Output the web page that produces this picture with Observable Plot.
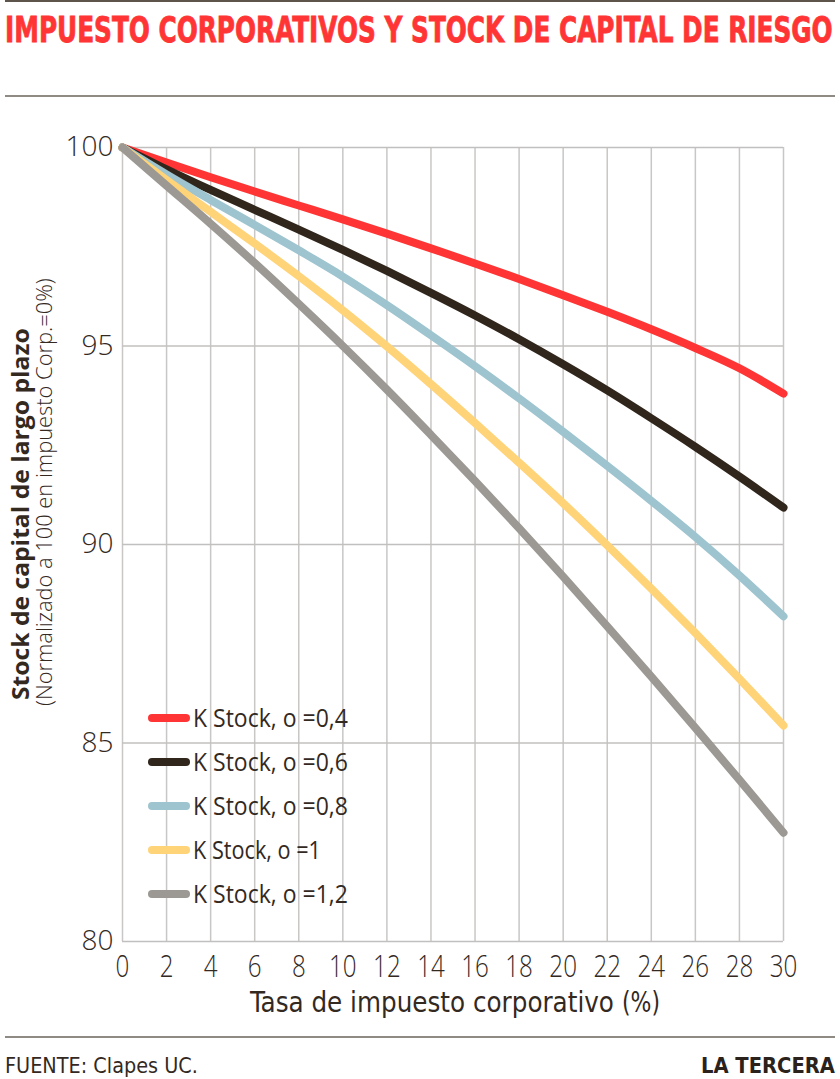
<!DOCTYPE html>
<html>
<head>
<meta charset="utf-8">
<script src="https://cdn.jsdelivr.net/npm/d3@7"></script>
<script src="https://cdn.jsdelivr.net/npm/@observablehq/plot@0.6"></script>
<style>
  body { margin: 0; background: #fff; }
  #wrap { position: relative; width: 840px; height: 1079px; overflow: hidden; font-family: "Open Sans", sans-serif; }
  #chart { position: absolute; left: 0; top: 100px; }
  #overlay { position: absolute; left: 0; top: 0; pointer-events: none; }
</style>
</head>
<body>
<div id="wrap">
  <div id="chart"></div>
  <svg id="overlay" width="840" height="1079"></svg>
</div>
<script>
// ---- data ----
const taxRates = [0, 2, 4, 6, 8, 10, 12, 14, 16, 18, 20, 22, 24, 26, 28, 30];
const seriesNames = ["K Stock, o =0,4", "K Stock, o =0,6", "K Stock, o =0,8", "K Stock, o =1", "K Stock, o =1,2"];
const seriesColors = ["#ff3535", "#30261c", "#9dc4cf", "#ffd378", "#9c9893"];
const stockSigma04 = [100, 99.62, 99.25, 98.89, 98.54, 98.19, 97.83, 97.46, 97.08, 96.69, 96.28, 95.86, 95.42, 94.95, 94.44, 93.80];
const stockSigma06 = [100, 99.45, 98.93, 98.43, 97.93, 97.42, 96.89, 96.34, 95.77, 95.17, 94.54, 93.88, 93.18, 92.46, 91.71, 90.93];
const stockSigma08 = [100, 99.32, 98.68, 98.05, 97.41, 96.75, 96.03, 95.27, 94.49, 93.68, 92.84, 91.98, 91.10, 90.19, 89.22, 88.19];
const stockSigma10 = [100, 99.18, 98.38, 97.58, 96.76, 95.90, 94.99, 94.04, 93.06, 92.06, 91.04, 89.98, 88.89, 87.77, 86.62, 85.44];
const stockSigma12 = [100, 99.04, 98.08, 97.09, 96.06, 95.00, 93.90, 92.76, 91.60, 90.41, 89.19, 87.94, 86.67, 85.38, 84.07, 82.74];
const xTicks = [0, 2, 4, 6, 8, 10, 12, 14, 16, 18, 20, 22, 24, 26, 28, 30];
const yTicks = [80, 85, 90, 95, 100];
const titleText = "IMPUESTO CORPORATIVOS Y STOCK DE CAPITAL DE RIESGO";
const yLabelMain = "Stock de capital de largo plazo";
const yLabelSub = "(Normalizado a 100 en impuesto Corp.=0%)";
const xLabelMain = "Tasa de impuesto corporativo";
const xLabelUnit = "(%)";
const sourceText = "FUENTE: Clapes UC.";
const brandText = "LA TERCERA";

const seriesValues = [stockSigma04, stockSigma06, stockSigma08, stockSigma10, stockSigma12];
const rows = seriesNames.flatMap((name, i) =>
  taxRates.map((t, j) => ({ series: name, tax: t, stock: seriesValues[i][j] }))
);

const textColor = "#33291f";
const condensed = "'Liberation Sans Narrow', 'DejaVu Sans Condensed', 'Open Sans', sans-serif";

const chart = Plot.plot({
  width: 840,
  height: 930,
  marginTop: 47,
  marginBottom: 89,
  marginLeft: 122,
  marginRight: 57,
  x: { domain: [0, 30] },
  y: { domain: [80, 100] },
  color: { domain: seriesNames, range: seriesColors },
  style: { fontFamily: "'Open Sans', sans-serif", color: textColor, background: "transparent" },
  marks: [
    Plot.ruleX(xTicks, { stroke: "#c9c7c5", strokeWidth: 1.5 }),
    Plot.ruleY(yTicks, { stroke: "#c2c0be", strokeWidth: 1.5 }),
    Plot.axisY(yTicks, { tickSize: 0, tickPadding: 9, fontSize: 28, fontWeight: 300, label: null, fill: textColor }),
    Plot.axisX(xTicks, { tickSize: 0, tickPadding: 13, fontSize: 31, fontWeight: 300, fontFamily: "'Open Sans', sans-serif", label: null, fill: textColor }),
    Plot.line(rows, { x: "tax", y: "stock", stroke: "series", strokeWidth: 8, curve: "monotone-x", strokeLinecap: "round", strokeLinejoin: "round" })
  ]
});
document.getElementById("chart").appendChild(chart);
// narrow the x tick labels (condensed look of the reference)
chart.querySelectorAll('g[aria-label="x-axis tick label"] text').forEach(t => {
  const tr = t.getAttribute("transform") || "";
  t.setAttribute("transform", tr + " scale(0.78,1)");
});

// ---- overlay texts / legend ----
const ov = d3.select("#overlay");
ov.append("line").attr("x1", 5).attr("x2", 835).attr("y1", 1).attr("y2", 1).attr("stroke", "#5d544c").attr("stroke-width", 2);
ov.append("line").attr("x1", 5).attr("x2", 835).attr("y1", 96).attr("y2", 96).attr("stroke", "#8f8a84").attr("stroke-width", 2);
ov.append("line").attr("x1", 5).attr("x2", 835).attr("y1", 1037).attr("y2", 1037).attr("stroke", "#8f8a84").attr("stroke-width", 2);

// helper: place a text so that its width equals `width` (horizontal squeeze via transform)
function fit(sel, x, y, width, rotate) {
  const w = sel.node().getComputedTextLength();
  const s = w > 0 ? width / w : 1;
  sel.attr("transform", `translate(${x},${y})${rotate ? " rotate(-90)" : ""} scale(${s},1)`);
  return sel;
}

// title
fit(ov.append("text").text(titleText)
  .attr("font-family", "'DejaVu Sans Condensed', 'DejaVu Sans', sans-serif").attr("font-weight", 700).attr("font-size", 35)
  .attr("fill", "#ff3535").attr("stroke", "#ff3535").attr("stroke-width", 0.8), 5, 42, 828);

// y label
fit(ov.append("text").text(yLabelMain)
  .attr("font-family", "'Open Sans', sans-serif").attr("font-weight", 700).attr("font-size", 23)
  .attr("fill", textColor), 29, 700, 372, true);
fit(ov.append("text").text(yLabelSub)
  .attr("font-family", "'Open Sans', sans-serif").attr("font-weight", 300).attr("font-size", 22)
  .attr("fill", textColor), 52, 706, 428, true);

// x label
fit(ov.append("text").text(xLabelMain)
  .attr("font-family", condensed).attr("font-size", 29).attr("font-weight", 500)
  .attr("fill", textColor), 250, 1012, 364);
fit(ov.append("text").text(xLabelUnit)
  .attr("font-family", condensed).attr("font-size", 29).attr("font-weight", 300)
  .attr("fill", textColor), 622, 1012, 38);

// legend
const legendY0 = 718, legendStep = 44;
seriesNames.forEach((name, i) => {
  const y = legendY0 + i * legendStep;
  ov.append("line").attr("x1", 152).attr("x2", 186).attr("y1", y).attr("y2", y)
    .attr("stroke", seriesColors[i]).attr("stroke-width", 8).attr("stroke-linecap", "round");
  fit(ov.append("text").text(name)
    .attr("font-family", "'Open Sans', sans-serif").attr("font-size", 26)
    .attr("fill", textColor), 193, y + 9, name.length > 14 ? 155 : (name.endsWith("1") ? 128 : 148));
});

// footer
fit(ov.append("text").text(sourceText)
  .attr("font-family", condensed).attr("font-weight", 300).attr("font-size", 21)
  .attr("fill", textColor), 5, 1073, 193);
fit(ov.append("text").text(brandText)
  .attr("font-family", condensed).attr("font-weight", 700).attr("font-size", 21)
  .attr("fill", "#2a221b"), 701, 1073, 134);
</script>
</body>
</html>
